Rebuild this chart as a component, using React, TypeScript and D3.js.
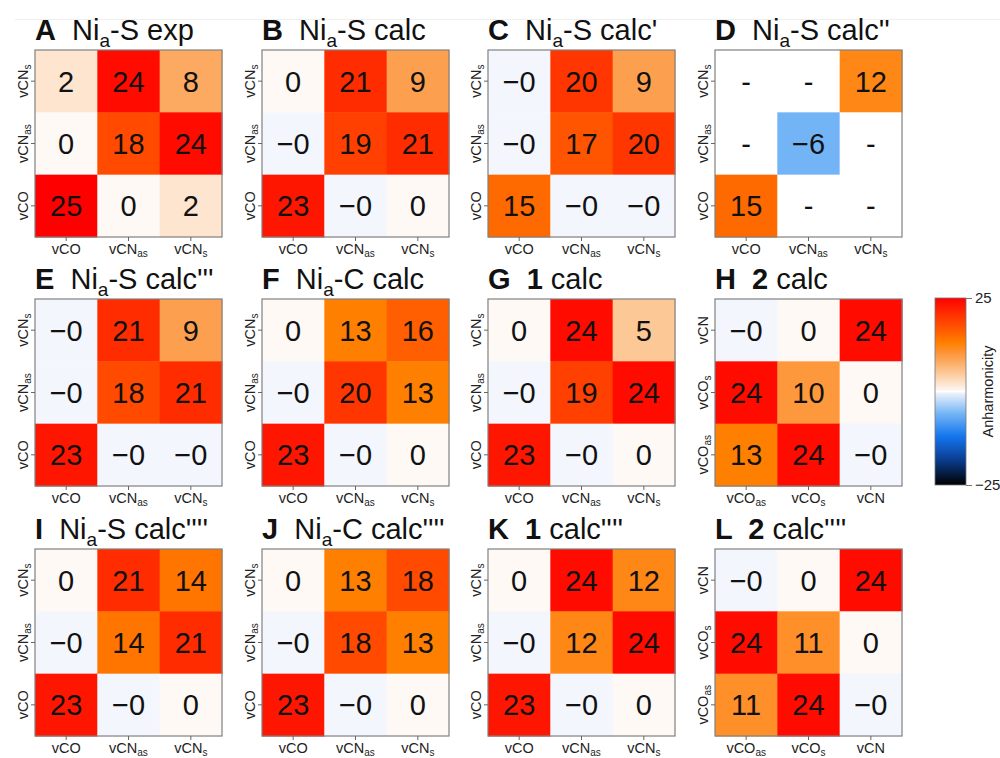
import { useEffect, useRef } from 'react';
import * as d3 from 'd3';

// axis categories (bottom -> top on y, left -> right on x)
const nCats = ['vCO', 'vCN_as', 'vCN_s'];
const hCats = ['vCO_as', 'vCO_s', 'vCN'];

// cell values, rows listed top -> bottom as they appear, columns left -> right
// small +/-0.3 values are the "0" / "−0" cells, null is a missing cell ("-")
const valsA = [[2, 24, 8], [0.3, 18, 24], [25, 0.3, 2]];
const valsB = [[0.3, 21, 9], [-0.3, 19, 21], [23, -0.3, 0.3]];
const valsC = [[-0.3, 20, 9], [-0.3, 17, 20], [15, -0.3, -0.3]];
const valsD = [[null, null, 12], [null, -6, null], [15, null, null]];
const valsE = [[-0.3, 21, 9], [-0.3, 18, 21], [23, -0.3, -0.3]];
const valsF = [[0.3, 13, 16], [-0.3, 20, 13], [23, -0.3, 0.3]];
const valsG = [[0.3, 24, 5], [-0.3, 19, 24], [23, -0.3, 0.3]];
const valsH = [[-0.3, 0.3, 24], [24, 10, 0.3], [13, 24, -0.3]];
const valsI = [[0.3, 21, 14], [-0.3, 14, 21], [23, -0.3, 0.3]];
const valsJ = [[0.3, 13, 18], [-0.3, 18, 13], [23, -0.3, 0.3]];
const valsK = [[0.3, 24, 12], [-0.3, 12, 24], [23, -0.3, 0.3]];
const valsL = [[-0.3, 0.3, 24], [24, 11, 0.3], [11, 24, -0.3]];

// title pieces: b = bold, n = normal, s = subscript
type Seg = [string, 'b' | 'n' | 's'];
const titles: Seg[][] = [
  [['A', 'b'], ['  Ni', 'n'], ['a', 's'], ['-S exp', 'n']],
  [['B', 'b'], ['  Ni', 'n'], ['a', 's'], ['-S calc', 'n']],
  [['C', 'b'], ['  Ni', 'n'], ['a', 's'], ["-S calc'", 'n']],
  [['D', 'b'], ['  Ni', 'n'], ['a', 's'], ["-S calc''", 'n']],
  [['E', 'b'], ['  Ni', 'n'], ['a', 's'], ["-S calc'''", 'n']],
  [['F', 'b'], ['  Ni', 'n'], ['a', 's'], ['-C calc', 'n']],
  [['G', 'b'], ['  1', 'b'], [' calc', 'n']],
  [['H', 'b'], ['  2', 'b'], [' calc', 'n']],
  [['I', 'b'], ['  Ni', 'n'], ['a', 's'], ["-S calc''''", 'n']],
  [['J', 'b'], ['  Ni', 'n'], ['a', 's'], ["-C calc''''", 'n']],
  [['K', 'b'], ['  1', 'b'], [" calc''''", 'n']],
  [['L', 'b'], ['  2', 'b'], [" calc''''", 'n']],
];
const panelVals = [valsA, valsB, valsC, valsD, valsE, valsF, valsG, valsH, valsI, valsJ, valsK, valsL];
const panelCats = [nCats, nCats, nCats, nCats, nCats, nCats, nCats, hCats, nCats, nCats, nCats, hCats];

// colour ramp stops (value -> colour)
const rampVals = [-25, -18, -12, -6, -0.5, 0, 0.5, 2, 5, 9, 12, 13, 15, 18, 21, 25];
const rampCols = ['#000000', '#0b3f95', '#1476ee', '#72b4f5', '#ebf1fb', '#ffffff', '#fdf5ee', '#fde5d0', '#fcc896', '#fca050', '#ff8716', '#ff8000', '#ff6a00', '#ff4a00', '#ff2c00', '#ff0000'];

const FONT = "'Liberation Sans', Arial, Helvetica, sans-serif";

export default function App() {
  const svgRef = useRef<SVGSVGElement>(null);

  useEffect(() => {
    if (!svgRef.current) return;
    const svg = d3.select(svgRef.current);
    svg.selectAll('*').remove();

    const color = d3.scaleLinear<string>().domain(rampVals).range(rampCols).clamp(true);
    const fmt = (v: number | null) => (v == null ? '-' : v < 0 ? '\u2212' + Math.round(-v) : String(Math.round(v)));

    const S = 187;
    const colLeft = [35, 262, 488, 715];
    const rowTop = [50, 299, 549];

    // faint rule along the top of the figure
    svg.append('line').attr('x1', 15).attr('x2', 1000).attr('y1', 19.5).attr('y2', 19.5)
      .attr('stroke', '#efefef').attr('stroke-width', 1);

    const addLabel = (sel: d3.Selection<SVGTextElement, unknown, null, undefined>, label: string) => {
      const [base, sub] = label.split('_');
      sel.append('tspan').text(base);
      if (sub) sel.append('tspan').attr('font-size', 10).attr('dy', 3).text(sub);
    };

    panelVals.forEach((vals, k) => {
      const cats = panelCats[k];
      const g = svg.append('g')
        .attr('transform', `translate(${colLeft[k % 4]},${rowTop[Math.floor(k / 4)]})`);

      const x = d3.scaleBand().domain(cats).range([0, S]);
      const y = d3.scaleBand().domain(cats).range([S, 0]);

      const cells = vals.flatMap((row, r) => row.map((v, c) => ({ xc: cats[c], yc: cats[2 - r], v })));

      g.selectAll('rect.cell').data(cells).join('rect')
        .attr('class', 'cell')
        .attr('x', (d) => x(d.xc)!)
        .attr('y', (d) => y(d.yc)!)
        .attr('width', x.bandwidth() + 0.5)
        .attr('height', y.bandwidth() + 0.5)
        .attr('fill', (d) => (d.v == null ? '#ffffff' : color(d.v)));

      g.selectAll('text.val').data(cells).join('text')
        .attr('class', 'val')
        .attr('x', (d) => x(d.xc)! + x.bandwidth() / 2)
        .attr('y', (d) => y(d.yc)! + y.bandwidth() / 2)
        .attr('dy', '0.36em')
        .attr('text-anchor', 'middle')
        .attr('font-family', FONT)
        .attr('font-size', 29)
        .attr('fill', '#111')
        .text((d) => fmt(d.v));

      g.append('rect').attr('width', S).attr('height', S)
        .attr('fill', 'none').attr('stroke', '#808080').attr('stroke-width', 1.2);

      // x axis
      const xa = g.append('g').attr('transform', `translate(0,${S})`)
        .call(d3.axisBottom(x).tickSize(4).tickFormat(() => ''));
      xa.select('.domain').remove();
      xa.selectAll('.tick line').attr('stroke', '#666');
      cats.forEach((c) => {
        const t = g.append('text')
          .attr('x', x(c)! + x.bandwidth() / 2)
          .attr('y', S + 17)
          .attr('text-anchor', 'middle')
          .attr('font-family', FONT)
          .attr('font-size', 14.5)
          .attr('fill', '#222');
        addLabel(t, c);
      });

      // y axis
      const ya = g.append('g').call(d3.axisLeft(y).tickSize(4).tickFormat(() => ''));
      ya.select('.domain').remove();
      ya.selectAll('.tick line').attr('stroke', '#666');
      cats.forEach((c) => {
        const t = g.append('text')
          .attr('transform', `translate(-7,${y(c)! + y.bandwidth() / 2}) rotate(-90)`)
          .attr('text-anchor', 'middle')
          .attr('font-family', FONT)
          .attr('font-size', 14.5)
          .attr('fill', '#222');
        addLabel(t, c);
      });

      // title
      const tt = g.append('text')
        .attr('x', 0).attr('y', -10)
        .attr('font-family', FONT)
        .attr('font-size', 29)
        .attr('fill', '#111')
        .style('white-space', 'pre');
      titles[k].forEach(([s, kind], i) => {
        const sp = tt.append('tspan').text(s);
        if (kind === 'b') sp.attr('font-weight', 'bold');
        if (kind === 's') sp.attr('font-size', 19).attr('dy', 7);
        else if (i > 0 && titles[k][i - 1][1] === 's') sp.attr('dy', -7);
      });
    });

    // colour bar
    const cbX = 935, cbW = 31, cbTop = 298, cbBot = 485;
    const cy = d3.scaleLinear().domain([25, -25]).range([cbTop, cbBot]);
    const grad = svg.append('defs').append('linearGradient')
      .attr('id', 'cbgrad').attr('x1', 0).attr('x2', 0).attr('y1', 0).attr('y2', 1);
    d3.range(25, -25.01, -0.5).forEach((v) => {
      grad.append('stop').attr('offset', (25 - v) / 50).attr('stop-color', color(v));
    });
    svg.append('rect').attr('x', cbX).attr('y', cbTop).attr('width', cbW).attr('height', cbBot - cbTop)
      .attr('fill', 'url(#cbgrad)').attr('stroke', '#777').attr('stroke-width', 0.8);
    const cbAxis = svg.append('g').attr('transform', `translate(${cbX + cbW},0)`)
      .call(d3.axisRight(cy).tickValues([25, -25]).tickSize(6).tickFormat((d) => fmt(d as number)));
    cbAxis.select('.domain').remove();
    cbAxis.selectAll('.tick line').attr('stroke', '#777');
    cbAxis.selectAll('.tick text').attr('font-family', FONT).attr('font-size', 15).attr('fill', '#222').attr('x', 9);
    svg.append('text')
      .attr('transform', `translate(993,${(cbTop + cbBot) / 2}) rotate(-90)`)
      .attr('text-anchor', 'middle')
      .attr('font-family', FONT)
      .attr('font-size', 14.5)
      .attr('fill', '#222')
      .text('Anharmonicity');
  }, []);

  return (
    <div style={{ position: 'absolute', left: 0, top: 0 }}>
      <svg ref={svgRef} width={1000} height={758} style={{ display: 'block', background: '#fff' }}></svg>
    </div>
  );
}
